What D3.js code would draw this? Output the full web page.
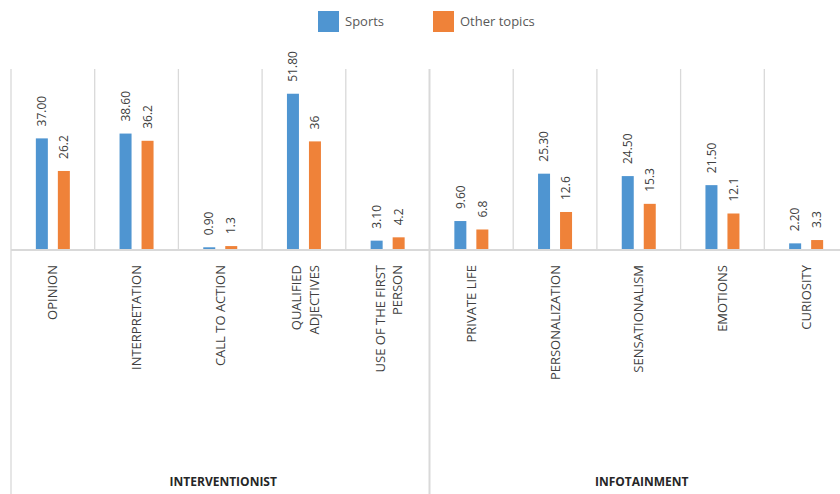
<!DOCTYPE html>
<html><head><meta charset="utf-8">
<script src="https://cdn.jsdelivr.net/npm/d3@7"></script>
<style>body{margin:0;background:#fff}svg{display:block}</style>
</head><body>
<svg id="c" width="840" height="494"></svg>
<script>
const categories = ["OPINION","INTERPRETATION","CALL TO ACTION","QUALIFIED\nADJECTIVES","USE OF THE FIRST\nPERSON","PRIVATE LIFE","PERSONALIZATION","SENSATIONALISM","EMOTIONS","CURIOSITY"];
const groups = ["INTERVENTIONIST","INFOTAINMENT"];
const groupOf = [0,0,0,0,0,1,1,1,1,1];
const seriesNames = ["Sports","Other topics"];
const sports = [37.00,38.60,0.90,51.80,3.10,9.60,25.30,24.50,21.50,2.20];
const other = [26.2,36.2,1.3,36,4.2,6.8,12.6,15.3,12.1,3.3];
const sportsLabels = ["37.00","38.60","0.90","51.80","3.10","9.60","25.30","24.50","21.50","2.20"];
const otherLabels = ["26.2","36.2","1.3","36","4.2","6.8","12.6","15.3","12.1","3.3"];
const colors = ["#4F95D1","#EF8239"];
const font = "'Open Sans', 'Noto Sans', sans-serif";

(function(){
const svg = d3.select("#c");
const W = 840, H = 494;
const pLeft = 11, pRight = 848, pTop = 69, base = 250;

const x = d3.scaleBand().domain(d3.range(categories.length)).range([pLeft, pRight]).padding(0);
const bw = x.bandwidth();
const x1 = d3.scaleBand().domain([0,1]).range([bw/2 - 17, bw/2 + 17]).paddingInner(10/22).paddingOuter(0);
const y = d3.scaleLinear().domain([0,60]).range([base, pTop]);

const gl = svg.append("g");
d3.range(1, categories.length).forEach(i => {
  if (groupOf[i] !== groupOf[i-1]) return;
  gl.append("line").attr("x1", x(i)).attr("x2", x(i)).attr("y1", pTop).attr("y2", base)
    .attr("stroke", "#d9d9d9").attr("stroke-width", 1.3);
});
gl.append("line").attr("x1", pLeft).attr("x2", pLeft).attr("y1", pTop).attr("y2", H)
  .attr("stroke", "#d9d9d9").attr("stroke-width", 1.3);
d3.range(1, categories.length).forEach(i => {
  if (groupOf[i] === groupOf[i-1]) return;
  gl.append("line").attr("x1", x(i)).attr("x2", x(i)).attr("y1", pTop).attr("y2", H)
    .attr("stroke", "#d9d9d9").attr("stroke-width", 2);
});

const series = [sports, other];
const labels = [sportsLabels, otherLabels];
series.forEach((vals, s) => {
  const g = svg.append("g");
  g.selectAll("rect").data(vals).join("rect")
    .attr("x", (d,i) => x(i) + x1(s))
    .attr("y", d => y(d))
    .attr("width", x1.bandwidth())
    .attr("height", d => base - y(d))
    .attr("fill", colors[s]);
  g.selectAll("text").data(vals).join("text")
    .attr("transform", (d,i) => `translate(${x(i) + x1(s) + x1.bandwidth()/2},${y(d) - 12}) rotate(-90)`)
    .attr("dy", "0.35em")
    .attr("text-anchor", "start")
    .attr("font-family", font).attr("font-size", 12).attr("fill", "#404040")
    .text((d,i) => labels[s][i]);
});

svg.append("line").attr("x1", pLeft).attr("x2", W).attr("y1", base).attr("y2", base)
  .attr("stroke", "#d9d9d9").attr("stroke-width", 2);

categories.forEach((c, i) => {
  const lines = c.split("\n");
  const cx = x(i) + bw/2;
  const offs = lines.length === 1 ? [0] : [-7.5, 10];
  lines.forEach((ln, k) => {
    svg.append("text")
      .attr("transform", `translate(${cx + offs[k]},${265}) rotate(-90)`)
      .attr("dy", "0.35em")
      .attr("text-anchor", "end")
      .attr("font-family", font).attr("font-size", 13).attr("fill", "#404040")
      .text(ln);
  });
});

groups.forEach((g, gi) => {
  const idx = d3.range(categories.length).filter(i => groupOf[i] === gi);
  const x0 = x(idx[0]);
  const xe = x(idx[idx.length-1]) + bw;
  svg.append("text").attr("x", (x0 + xe)/2 + 3).attr("y", 486)
    .attr("text-anchor", "middle")
    .attr("font-family", font).attr("font-size", 12).attr("font-weight", "bold").attr("fill", "#262626")
    .text(g);
});

const legX = [318, 433];
seriesNames.forEach((n, s) => {
  svg.append("rect").attr("x", legX[s]).attr("y", 11).attr("width", 21).attr("height", 21).attr("fill", colors[s]);
  svg.append("text").attr("x", legX[s] + 27).attr("y", 26)
    .attr("font-family", font).attr("font-size", 13).attr("fill", "#595959").text(n);
});
})();
</script>
</body></html>
